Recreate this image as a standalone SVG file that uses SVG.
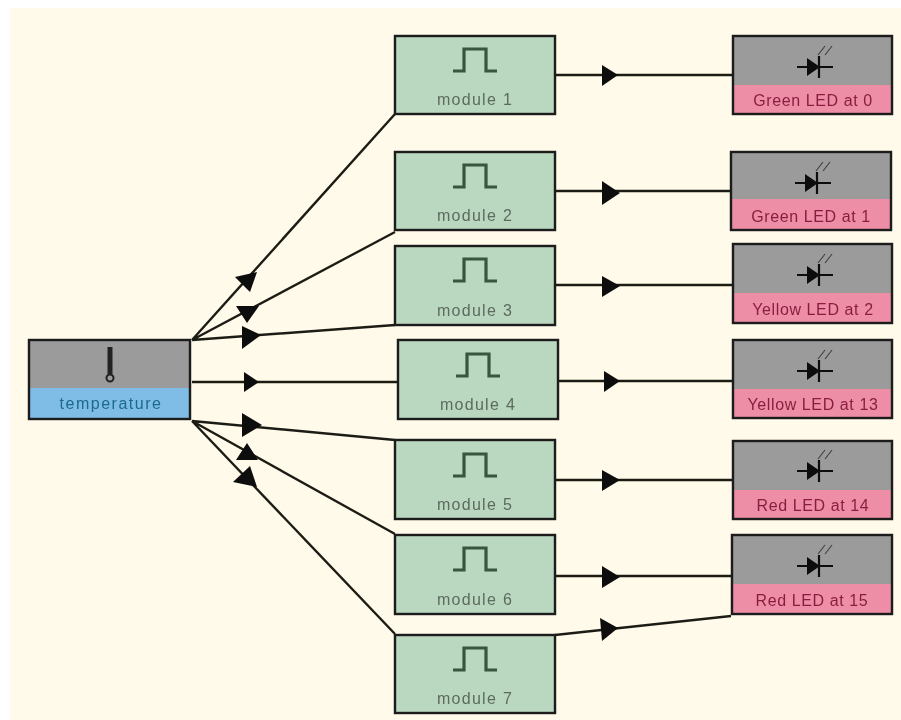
<svg xmlns="http://www.w3.org/2000/svg" width="901" height="720" viewBox="0 0 901 720">
<style>
text{font-family:"Liberation Sans",Arial,sans-serif;font-size:16px;text-anchor:middle}
.box{fill:none;stroke:#1c1c1c;stroke-width:2.4}
.mod{fill:#b9d8bf}
.gray{fill:#9b9b9b}
.pink{fill:#ee8ea6}
.blue{fill:#7fbce6}
.c{fill:none;stroke:#1e1e14;stroke-width:2.4}
.h{fill:#0c0c0c}
.p{fill:none;stroke:#37553f;stroke-width:3.2}
.led{fill:none;stroke:#111;stroke-width:2.2}
.ml{fill:#5d6a60;letter-spacing:1.3px}
.ll{fill:#8a1f3f;letter-spacing:.6px}
.tl{fill:#1a6a8c;letter-spacing:1.5px}
</style>
<defs>
<filter id="soft" filterUnits="userSpaceOnUse" x="0" y="0" width="901" height="720"><feGaussianBlur stdDeviation="0.6"/></filter>
<g id="pulse"><path class="p" d="M-22 21H-11V-1H11V21H22"/></g>
<g id="ledi"><path class="led" d="M-17 0H19M5 -11V11"/><path class="h" d="M-7 -9L6 0L-7 9Z"/><path d="M4 -12L11 -21M11 -12L18 -21" fill="none" stroke="#444" stroke-width="1.2"/></g>
</defs>
<rect x="10" y="8" width="891" height="712" fill="#fffaea"/>
<rect width="10" height="720" fill="#fff"/>
<rect width="901" height="8" fill="#fff"/>
<g filter="url(#soft)">
<g id="connectors">
<path class="c" d="M192 340L395 114M192 340L395 232M192 340L395 325M192 382H398M192 421L395 440M192 421L395 534M192 421L395 634"/>
<path class="c" d="M555 75H733M555 191H731M555 285H733M558 381H733M555 480H733M555 576H731M555 635L731 616"/>
<path class="h" d="M235 277L257 272L250 292ZM236 306L259 306L247 323ZM242 326L261 335L242 349ZM244 372L259 382L244 392ZM242 413L262 425L242 437ZM247 443L258 460L236 460ZM250 466L257 487L233 482ZM602 65L618 75L602 86ZM602 181L620 193L602 205ZM602 276L620 286L602 297ZM604 371L620 381L604 392ZM602 566L620 577L602 588ZM602 470L620 480L602 491ZM600 618L618 628L602 641Z"/>
</g>
<g id="temperature"><rect class="gray" x="29" y="340" width="161" height="48"/><rect class="blue" x="29" y="388" width="161" height="31"/><rect class="box" x="29" y="340" width="161" height="79"/><path d="M110 347V374" stroke="#222" stroke-width="5"/><circle cx="110" cy="378" r="3.5" fill="none" stroke="#222" stroke-width="2"/><text class="tl" x="111" y="409">temperature</text></g>
<g id="module1"><rect class="mod box" x="395" y="36" width="160" height="78"/><use href="#pulse" x="475" y="50"/><text class="ml" x="475" y="105">module 1</text></g>
<g id="module2"><rect class="mod box" x="395" y="152" width="160" height="78"/><use href="#pulse" x="475" y="166"/><text class="ml" x="475" y="221">module 2</text></g>
<g id="module3"><rect class="mod box" x="395" y="246" width="160" height="79"/><use href="#pulse" x="475" y="260"/><text class="ml" x="475" y="316">module 3</text></g>
<g id="module4"><rect class="mod box" x="398" y="340" width="160" height="79"/><use href="#pulse" x="478" y="355"/><text class="ml" x="478" y="410">module 4</text></g>
<g id="module5"><rect class="mod box" x="395" y="440" width="160" height="79"/><use href="#pulse" x="475" y="455"/><text class="ml" x="475" y="510">module 5</text></g>
<g id="module6"><rect class="mod box" x="395" y="535" width="160" height="79"/><use href="#pulse" x="475" y="549"/><text class="ml" x="475" y="605">module 6</text></g>
<g id="module7"><rect class="mod box" x="395" y="635" width="160" height="78"/><use href="#pulse" x="475" y="649"/><text class="ml" x="475" y="704">module 7</text></g>
<g id="led0"><rect class="gray" x="733" y="36" width="159" height="49"/><rect class="pink" x="733" y="85" width="159" height="29"/><rect class="box" x="733" y="36" width="159" height="78"/><use href="#ledi" x="814" y="67"/><text class="ll" x="813" y="106">Green LED at 0</text></g>
<g id="led1"><rect class="gray" x="731" y="152" width="160" height="47"/><rect class="pink" x="731" y="199" width="160" height="31"/><rect class="box" x="731" y="152" width="160" height="78"/><use href="#ledi" x="812" y="183"/><text class="ll" x="811" y="222">Green LED at 1</text></g>
<g id="led2"><rect class="gray" x="733" y="244" width="159" height="49"/><rect class="pink" x="733" y="293" width="159" height="30"/><rect class="box" x="733" y="244" width="159" height="79"/><use href="#ledi" x="814" y="275"/><text class="ll" x="813" y="315">Yellow LED at 2</text></g>
<g id="led3"><rect class="gray" x="733" y="340" width="159" height="49"/><rect class="pink" x="733" y="389" width="159" height="29"/><rect class="box" x="733" y="340" width="159" height="78"/><use href="#ledi" x="814" y="371"/><text class="ll" x="813" y="410">Yellow LED at 13</text></g>
<g id="led4"><rect class="gray" x="733" y="441" width="159" height="49"/><rect class="pink" x="733" y="490" width="159" height="29"/><rect class="box" x="733" y="441" width="159" height="78"/><use href="#ledi" x="814" y="471"/><text class="ll" x="813" y="511">Red LED at 14</text></g>
<g id="led5"><rect class="gray" x="732" y="535" width="160" height="49"/><rect class="pink" x="732" y="584" width="160" height="30"/><rect class="box" x="732" y="535" width="160" height="79"/><use href="#ledi" x="814" y="566"/><text class="ll" x="812" y="606">Red LED at 15</text></g>
</g>
</svg>
